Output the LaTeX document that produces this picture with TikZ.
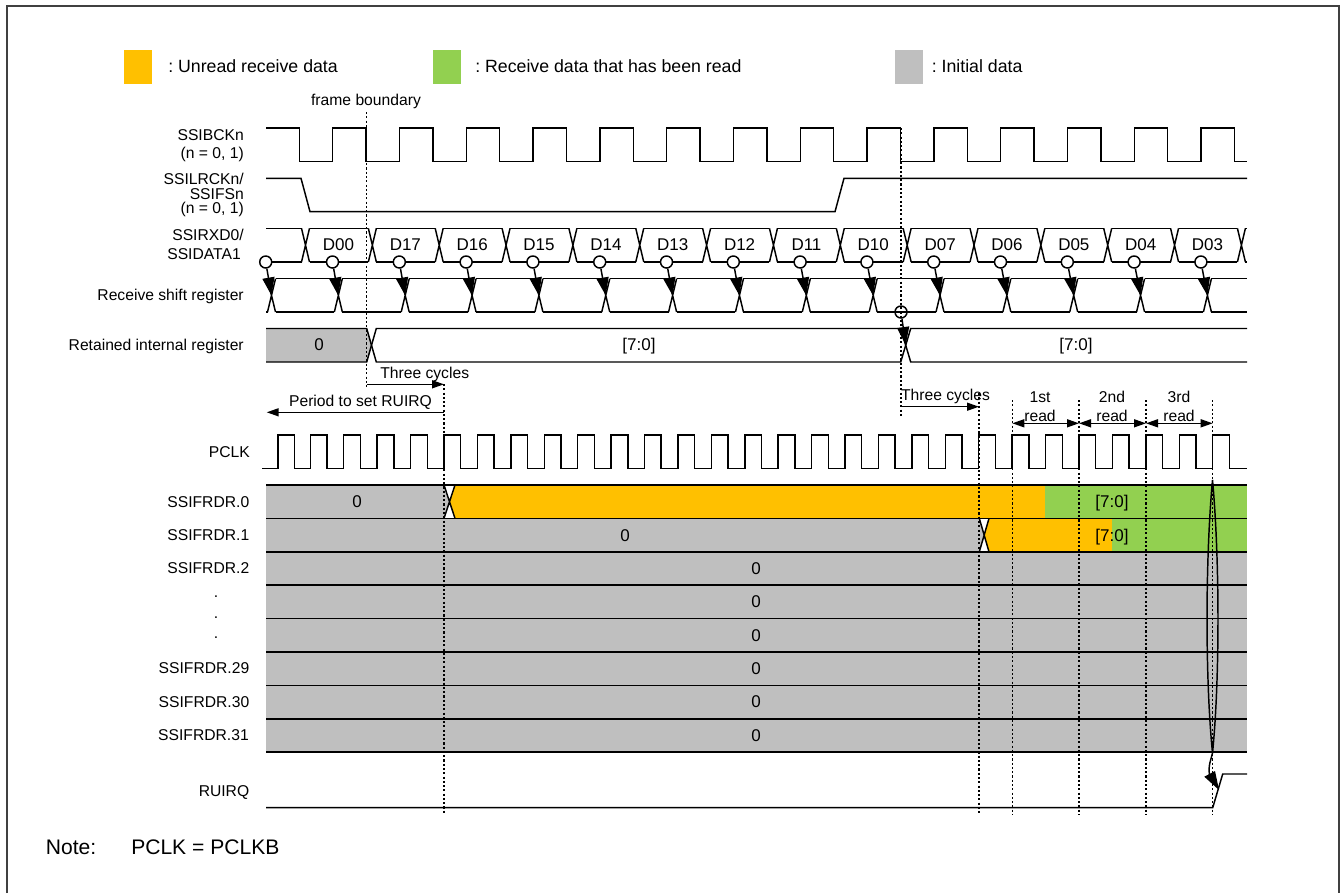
\documentclass[tikz,border=0pt]{standalone}
\usepackage{fontspec}
\setmainfont{Liberation Sans}
\usetikzlibrary{arrows.meta}
\definecolor{unread}{HTML}{FFC000}
\definecolor{readgreen}{HTML}{92D050}
\definecolor{initgray}{HTML}{BFBFBF}
\newcommand\fsmain{\fontsize{11.75pt}{14pt}\selectfont\frenchspacing}
\newcommand\fsdata{\fontsize{12.75pt}{15pt}\selectfont\frenchspacing}
\newcommand\fsleg{\fontsize{13.3pt}{16pt}\selectfont\frenchspacing}
\newcommand\fsnote{\fontsize{15.8pt}{18pt}\selectfont\frenchspacing}
\tikzset{
  sig/.style={line width=1.1pt,line join=miter,black},
  rowline/.style={line width=1.2pt,black},
  dots/.style={line width=1.1pt,dash pattern=on 1.6pt off 1.6pt,black},
  frameline/.style={line width=1.5pt,black!75},
  txt/.style={inner sep=0pt,text depth=0pt,black},
  lbl/.style={txt,anchor=east,font=\fsmain,text height=8.4pt},
  mid/.style={txt,anchor=center,font=\fsmain,text height=8.4pt},
  dat/.style={txt,anchor=center,font=\fsdata,text height=9.2pt},
  leg/.style={txt,anchor=west,font=\fsleg,text height=9.6pt},
  nte/.style={txt,anchor=west,font=\fsnote,text height=11.3pt},
  smp/.style={circle,draw,fill=white,line width=1.1pt,minimum size=9pt,inner sep=0pt},
  bigtip/.style={sig,-{Triangle[length=13.5pt,width=9pt]}},
  smalltip/.style={sig,-{Triangle[length=9pt,width=6pt]}},
  bothtip/.style={sig,{Triangle[length=9pt,width=6pt]}-{Triangle[length=9pt,width=6pt]}},
}
% #1 top, #2 bottom, #3 first crossing, #4 half width of a crossing, #5 last index
\newcommand\buslane[5]{%
  \draw[sig] (266,#1) -- (#3-#4,#1) (266,#2) -- (#3-#4,#2);
  \foreach \k in {0,...,#5} {
    \draw[sig] (#3+66.85*\k-#4,#1) -- (#3+66.85*\k+#4,#2)
               (#3+66.85*\k-#4,#2) -- (#3+66.85*\k+#4,#1);
  }
  \pgfmathtruncatemacro\lastk{#5-1}
  \foreach \k in {0,...,\lastk} {
    \draw[sig] (#3+66.85*\k+#4,#1) -- (#3+66.85*\k+66.85-#4,#1)
               (#3+66.85*\k+#4,#2) -- (#3+66.85*\k+66.85-#4,#2);
  }
  \draw[sig] (#3+66.85*#5+#4,#1) -- (1247,#1) (#3+66.85*#5+#4,#2) -- (1247,#2);
}
\begin{document}
\begin{tikzpicture}[x=0.75pt,y=-0.75pt]
\useasboundingbox (0,0) rectangle (1341,893);
% outer frame (open at the bottom)
\draw[frameline] (6.7,893) -- (6.7,6) -- (1339,6) -- (1339,893);

% legend
\fill[unread] (124,50) rectangle (152,84);
\node[leg] (legA) at (168,66) {: Unread receive data};
\fill[readgreen] (433,50) rectangle (461,84);
\node[leg] (legB) at (475,66) {: Receive data that has been read};
\fill[initgray] (894.5,50) rectangle (922.5,84);
\node[leg] (legC) at (931.5,66) {: Initial data};

% signal names
\node[mid] (fb) at (366,100) {frame boundary};
\node[lbl] (n1) at (244,134.5) {SSIBCKn};
\node[lbl] (n2) at (244,153) {(n = 0, 1)};
\node[lbl] (n3) at (244,179) {SSILRCKn/};
\node[lbl] (n4) at (244,193.5) {SSIFSn};
\node[lbl] (n5) at (244,208) {(n = 0, 1)};
\node[lbl] (n6) at (244,235) {SSIRXD0/};
\node[lbl] (n7) at (241,254) {SSIDATA1};
\node[lbl] (n8) at (244,294.5) {Receive shift register};
\node[lbl] (n9) at (244,344.5) {Retained internal register};
\node[lbl] (p0) at (250,451.5) {PCLK};
\node[lbl] (f0) at (249.5,501.5) {SSIFRDR.0};
\node[lbl] (f1) at (249.5,535) {SSIFRDR.1};
\node[lbl] (f2) at (249.5,568) {SSIFRDR.2};
\node[mid] (d1) at (216,592) {.};
\node[mid] (d2) at (216,612.5) {.};
\node[mid] (d3) at (216,633) {.};
\node[lbl] (f29) at (249.5,668) {SSIFRDR.29};
\node[lbl] (f30) at (249.5,702) {SSIFRDR.30};
\node[lbl] (f31) at (249,735) {SSIFRDR.31};
\node[lbl] (rq) at (249.5,791) {RUIRQ};

% SSIBCKn
\draw[sig] (266,128)
  \foreach \k in {0,...,13} { -- (299.3+66.8*\k,128) -- (299.3+66.8*\k,161.5) -- (332.7+66.8*\k,161.5) -- (332.7+66.8*\k,128) }
  -- (1234.5,128) -- (1234.5,161.5) -- (1247,161.5);

% SSILRCKn / SSIFSn
\draw[sig] (266,178.3) -- (301,178.3) -- (310,211.7) -- (835,211.7) -- (844,178.3) -- (1247,178.3);

% SSIRXD0 / SSIDATA1
\buslane{228.3}{262}{305.5}{4}{14}
\foreach \t [count=\i from 0] in {D00,D17,D16,D15,D14,D13,D12,D11,D10,D07,D06,D05,D04,D03} {
  \node[dat] (bit\i) at (338.5+66.85*\i,244.5) {\t};
}

% Receive shift register
\buslane{278.7}{312}{271.5}{4}{14}

% Retained internal register
\fill[initgray] (266,328.5) -- (366.7,328.5) -- (371.5,345) -- (366.7,362) -- (266,362) -- cycle;
\draw[sig] (266,328.5) -- (366.7,328.5) -- (376.3,362) -- (900.7,362) -- (910.7,328.5) -- (1247,328.5);
\draw[sig] (266,362) -- (366.7,362) -- (376.3,328.5) -- (900.7,328.5) -- (910.7,362) -- (1247,362);
\node[dat] (r0) at (319,344) {0};
\node[dat] (r1) at (639,344.5) {[7:0]};
\node[dat] (r2) at (1076,344.5) {[7:0]};

% PCLK
\draw[sig] (262,468.3) -- (278,468.3) -- (278,435) -- (294.7,435) -- (294.7,468.3)
  \foreach \k in {-4,...,22} { -- (444+33.42*\k,468.3) -- (444+33.42*\k,435) -- (460.7+33.42*\k,435) -- (460.7+33.42*\k,468.3) }
  -- (1212.7,468.3) -- (1212.7,435) -- (1229.4,435) -- (1229.4,468.3) -- (1247,468.3);

% SSIFRDR rows
\fill[initgray] (266,485) -- (444,485) -- (449.3,501.5) -- (444,518.4) -- (266,518.4) -- cycle;
\fill[unread] (455,485) -- (1045,485) -- (1045,518.4) -- (455,518.4) -- (449.3,501.5) -- cycle;
\fill[readgreen] (1045,485) rectangle (1247,518.4);
\fill[initgray] (266,518.4) -- (979.3,518.4) -- (984,535) -- (979.3,551.8) -- (266,551.8) -- cycle;
\fill[unread] (989,518.4) -- (1112,518.4) -- (1112,551.8) -- (989,551.8) -- (984,535) -- cycle;
\fill[readgreen] (1112,518.4) rectangle (1247,551.8);
\fill[initgray] (266,551.8) rectangle (1247,752.2);
\foreach \y in {485,518.4,551.8,585.2,618.6,652,685.4,718.8,752.2} {
  \draw[rowline] (266,\y) -- (1247,\y);
}
% white gaps of the two data changes are bounded by their crossing lines
\draw[sig] (444,485) -- (455,518.4) (444,518.4) -- (455,485);
\draw[sig] (979.3,518.4) -- (989,551.8) (979.3,551.8) -- (989,518.4);
\node[dat] (v0) at (357,501.5) {0};
\node[dat] (v0b) at (1112,501.5) {[7:0]};
\node[dat] (v1) at (625,535) {0};
\node[dat] (v1b) at (1112,535) {[7:0]};
\foreach \y [count=\i] in {568,601.5,635,668,701.5,735} {
  \node[dat] (z\i) at (756,\y) {0};
}

% RUIRQ
\draw[sig] (266,807.7) -- (1212.7,807.7) -- (1222.7,774) -- (1247,774);

% notes
\node[nte] (nt) at (45.7,847) {Note:};
\node[nte] (nb) at (131,847) {PCLK = PCLKB};

% boundaries
\coordinate (t0) at (366.5,112);   \coordinate (b0) at (366.5,388);
\coordinate (t1) at (444,384);     \coordinate (b1) at (444,814);
\coordinate (t2) at (901,128);     \coordinate (b2) at (901,418);
\coordinate (t3) at (979,393);     \coordinate (b3) at (979,814);
\coordinate (t4) at (1012.3,400);  \coordinate (b4) at (1012.3,814);
\coordinate (t5) at (1079,400);    \coordinate (b5) at (1079,814);
\coordinate (t6) at (1146,400);    \coordinate (b6) at (1146,814);
\coordinate (t7) at (1212.7,400);  \coordinate (b7) at (1212.7,814);
\foreach \i in {0,...,7} { \draw[dots] (t\i) -- (b\i); }

% sampling arrows
\foreach \k in {0,...,14} {
  \node[smp] (c\k) at (265.7+66.8*\k,262) {};
  \coordinate (s\k) at (271.5+66.85*\k,295.5);
  \draw[bigtip] (c\k) -- (s\k);
}
\node[smp,fill=none] (cr) at (901,312) {};
\coordinate (sr) at (905.7,345);
\draw[bigtip] (cr) -- (sr);

% spans
\coordinate (a0) at (366.5,384.3); \coordinate (a1) at (444,384.3);
\draw[smalltip] (a0) -- (a1);
\node[mid] (tc1) at (424.7,372.7) {Three cycles};
\coordinate (p1) at (266.7,412.3); \coordinate (p2) at (444,412.3);
\draw[smalltip] (p2) -- (p1);
\node[mid] (per) at (360.5,400.7) {Period to set RUIRQ};
\coordinate (a2) at (901,406.7); \coordinate (a3) at (979,406.7);
\draw[smalltip] (a2) -- (a3);
\node[mid] (tc2) at (945.5,395) {Three cycles};
\coordinate (g0) at (1012.3,423.3); \coordinate (g1) at (1079,423.3);
\coordinate (g2) at (1146,423.3);   \coordinate (g3) at (1212.7,423.3);
\draw[bothtip] (g0) -- (g1);
\draw[bothtip] (g1) -- (g2);
\draw[bothtip] (g2) -- (g3);
\node[mid] (h1) at (1040,397) {1st};
\node[mid] (h2) at (1040,416) {read};
\node[mid] (h3) at (1112,397) {2nd};
\node[mid] (h4) at (1112,416) {read};
\node[mid] (h5) at (1179,397) {3rd};
\node[mid] (h6) at (1179,416) {read};

% RUIRQ cause: narrow loop spanning the FIFO rows, ending on the rising edge
\draw[sig] (1212.5,480) .. controls (1205.2,560) and (1205.2,680) .. (1212.5,753)
  .. controls (1219.8,680) and (1219.8,560) .. (1212.5,480) -- cycle;
\coordinate (tipA) at (1219,790);
\draw[sig] (1212.5,753) .. controls (1211,760) and (1208,765) .. (1209.5,775);
\fill[black] (1215,771) -- (1204.3,776.7) -- (tipA) -- cycle;
\end{tikzpicture}
\end{document}
